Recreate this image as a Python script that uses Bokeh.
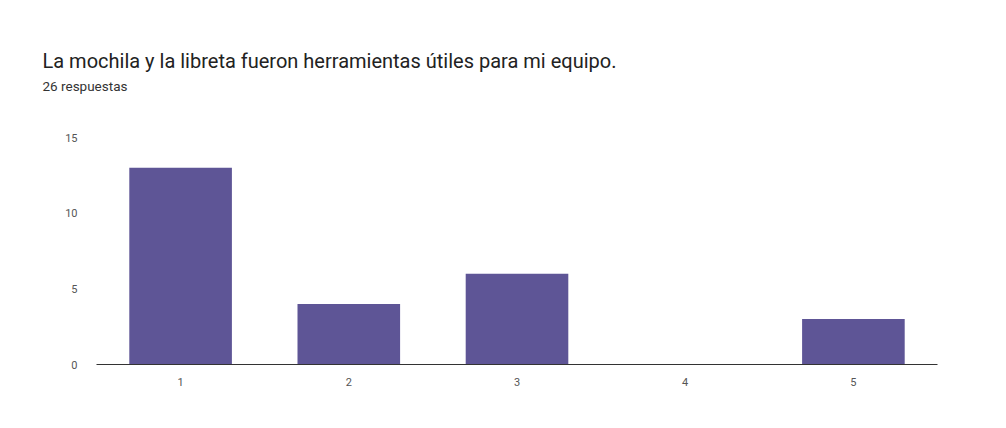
from bokeh.plotting import figure
from bokeh.models import Title, FixedTicker
from bokeh.embed import file_html
from bokeh.resources import INLINE

# Survey answers (scale 1-5) and response counts
categories = ["1", "2", "3", "4", "5"]
counts = [13, 4, 6, 0, 3]
y_ticks = [0, 5, 10, 15]
title_text = "La mochila y la libreta fueron herramientas útiles para mi equipo."
subtitle_text = "26 respuestas"

BAR_COLOR = "#5e5596"
FONT = "Roboto"

p = figure(
    width=1006, height=428,
    x_range=categories, y_range=(0, 15),
    output_backend="svg", toolbar_location=None,
    min_border_left=96, min_border_right=69,
    min_border_top=137, min_border_bottom=64,
)
p.outline_line_color = None
p.background_fill_color = "white"
p.border_fill_color = "white"

p.vbar(x=categories, top=counts, width=0.61, fill_color=BAR_COLOR, line_color=None)

p.xgrid.grid_line_color = None
p.ygrid.grid_line_color = None

p.yaxis.ticker = FixedTicker(ticks=y_ticks)
p.yaxis.axis_line_color = None
p.yaxis.major_tick_line_color = None
p.yaxis.minor_tick_line_color = None
p.yaxis.major_label_standoff = 13
p.yaxis.major_label_text_font = FONT
p.yaxis.major_label_text_font_size = "11px"
p.yaxis.major_label_text_color = "#555555"

p.xaxis.axis_line_color = "#333333"
p.xaxis.axis_line_width = 1
p.xaxis.major_tick_line_color = None
p.xaxis.minor_tick_line_color = None
p.xaxis.major_label_standoff = 7
p.xaxis.major_label_text_font = FONT
p.xaxis.major_label_text_font_size = "11px"
p.xaxis.major_label_text_color = "#555555"

# Header panels stack upward from the plot: a blank gap, the response count, the heading
p.add_layout(Title(text=" ", standoff=38, text_font_size="1px"), "above")
p.add_layout(Title(text=subtitle_text, align="left", offset=-54, standoff=6,
                   text_font=FONT, text_font_size="13.5px",
                   text_font_style="normal", text_color="#333333"), "above")
p.add_layout(Title(text=title_text, align="left", offset=-54, standoff=0,
                   text_font=FONT, text_font_size="20px",
                   text_font_style="normal", text_color="#222222"), "above")

open("out.html", "w").write(file_html(p, INLINE))
